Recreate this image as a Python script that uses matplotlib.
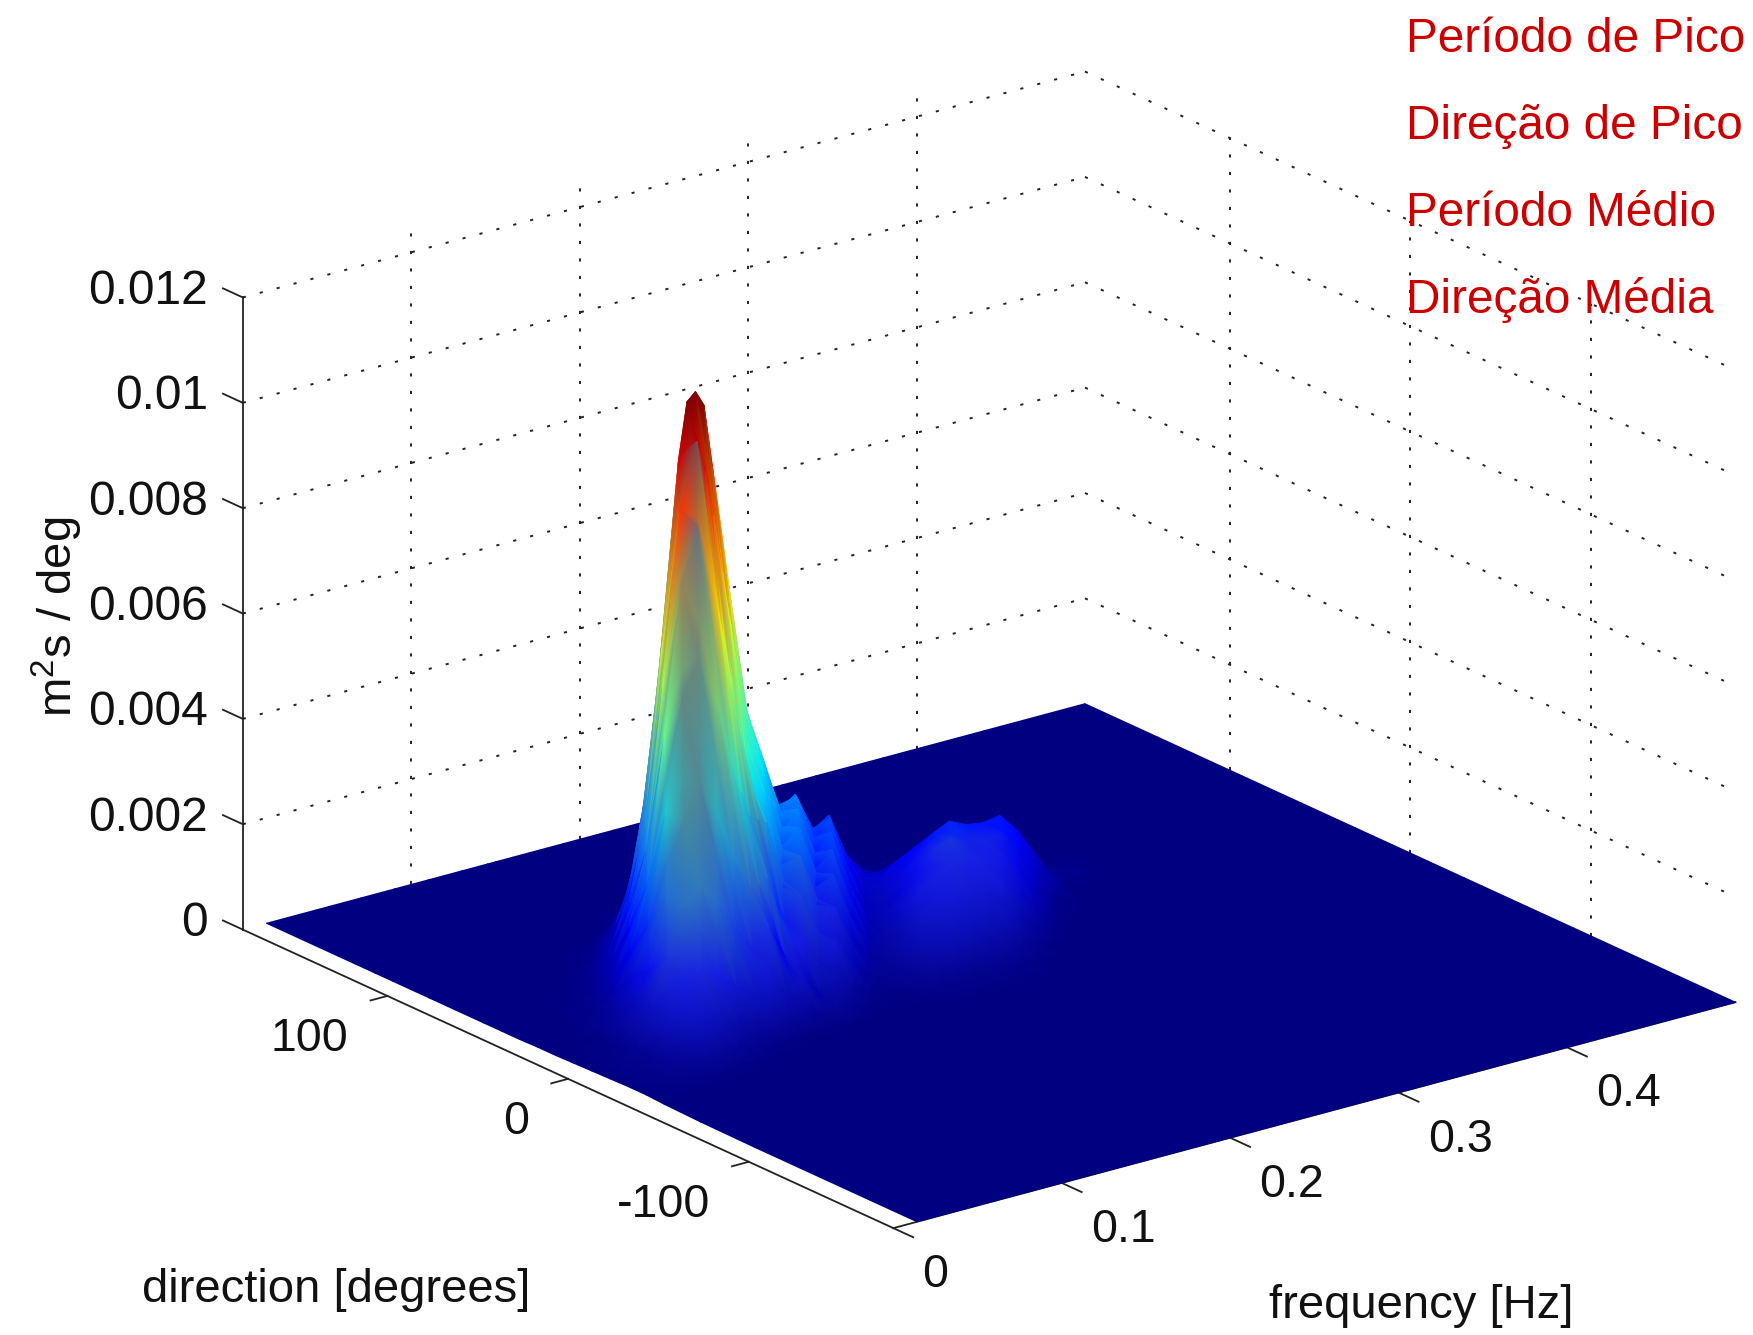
""" directional wave spectrum, surface seen from the front corner
"""
import numpy as np
import matplotlib
matplotlib.use('Agg')
import matplotlib.pyplot as plt
from mpl_toolkits.mplot3d import proj3d

plt.rcParams['font.family'] = ['Liberation Sans', 'DejaVu Sans']
plt.rcParams['mathtext.fontset'] = 'custom'
plt.rcParams['mathtext.rm'] = 'Liberation Sans'
plt.rcParams['mathtext.default'] = 'rm'

# Surface, energy in units of 1e-4 m2s/deg
freq_hz = [.014, .04, .06, .07, .08, .09, .10, .11, .12, .13, .135, .14, .145, .15, .16, .17, .18, .19, .20,
           .21, .22, .23, .24, .25, .26, .27, .28, .29, .30, .31, .32, .34, .38, .44, .50]
dir_deg = [180, 140, 120, 110, 100, 90, 80, 70, 60, 50, 40, 30, 20, 10, 0, -10, -20, -30, -40, -60, -90, -180]
energy_e4 = [
    [0]*35,
    [0]*35,
    [0]*12 + [.1, .2, .4, .9, 1.9, 2.9, 3.3, 2.8, 2.1, 1.4, 1.1, .6, .8, .5, .6, .3, .1, 0, 0] + [0]*4,
    [0]*7 + [.1, .1, .2, .3, .5, .9, 1.3, 2.6, 5.6, 8.6, 10, 8.4, 6.3, 4, 3.2, 1.9, 2.4, 1.4, 1.9, 1, .4, .2, .1, .1, 0, 0, 0, 0],
    [0]*6 + [.1, .2, .4, 1.1, 2, 3, 4.7, 6.4, 14, 21, 24, 20, 15, 10, 8, 4.6, 5.9, 3.3, 4.6, 2.4, .9, .4, .2] + [0]*6,
    [0]*5 + [.2, .5, .9, 2.3, 6.3, 9.5, 13, 20, 28, 43, 49, 42, 32, 21, 16, 9.5, 12, 6.8, 9.5, 5, 1.8, .9, .5, .2] + [0]*6,
    [0]*4 + [.4, .7, 1.4, 3.6, 10, 21, 33, 45, 57, 69, 78, 67, 50, 33, 26, 15, 19, 11, 15, 8.7, 3.8, 2.4, 1.7, 1.3, .9, .9, .7, .1, 0, 0, 0],
    [0]*3 + [.5, .9, 1.8, 4.6, 13, 27, 57, 73, 88, 95, 100, 86, 64, 39, 33, 19, 25, 14.1, 19.3, 11, 6.1, 5.5, 5.6, 5.6, 4.7, 4.5, 4.7, 3.6, .6, 0, 0, 0],
    [0, 0, .5, 1, 2, 5, 14, 29, 62, 97, 107.5, 109, 106, 94, 70, 42, 36, 21, 27, 15, 21.2, 11.6, 6.5, 7.6, 9.7, 11.3, 12, 10.9, 10.5, 10.9, 8.4, 1.4, 0, 0, 0],
    [0, .2, .9, 1.9, 4.7, 13, 27, 58, 90, 102, 96, 87, 76, 66, 41, 36, 21, 27, 15, 21, 11.3, 5, 5.4, 8.9, 13, 15.5, 17, 15.5, 15, 15.5, 12, 2, 0, 0, 0],
    [0, .3, 1.6, 4, 11, 23, 50, 78, 88, 75, 66, 57, 47, 38, 34, 20, 26, 14, 20, 10.8, 4.8, 5, 8.4, 12.3, 14.8, 16.2, 14.7, 14.3, 14.7, 11.4, 6.7, .4, 0, 0, 0],
    [.1, .6, 3, 8.5, 18, 38, 59, 66, 57, 43, 38, 33, 32, 31, 18, 23, 13, 17.8, 9.6, 4.2, 4, 7, 10.3, 12.4, 13.6, 12.4, 12, 12.4, 9.6, 5.6, 1.6, 0, 0, 0, 0],
    [.1, .8, 5.6, 11.6, 25, 38, 44, 37, 28, 22, 22, 23, 18, 14, 18, 10, 14, 7.4, 3.2, 2.9, 5.2, 7.7, 9.3, 10.2, 9.3, 9, 9.3, 7.2, 4.2, 1.2, 0, 0, 0, 0, 0],
    [.2, 1.2, 7, 15.5, 24, 27, 23, 17.5, 13, 16, 13, 9.5, 11, 12, 6.8, 9.5, 5.1, 2.2, 1.9, 3.4, 5, 6.2, 6.8, 6.2, 6, 6.2, 4.8, 2.8, .8] + [0]*6,
    [.3, 1.8, 8, 12.5, 14, 12, 9, 7, 9, 5, 6, 6.8, 5, 3.8, 5, 2.8, 1.3, 1, 1.7, 2.8, 3.4, 3.7, 3.4, 3.3, 3.4, 2.6, 1.5, .4] + [0]*7,
    [.4, 1.9, 6.2, 7, 6, 4.5, 3.5, 4.3, 2.5, 3.2, 2.5, 1.8, 2.1, 2.5, 1.3, .6, .6, .8, 1.1, 1.4, 1.6, 1.6, 1.5, 1.6, 1.2, .7, .2] + [0]*8,
    [.5, 1.9, 3.3, 2.8, 2.1, 1.3, .9, .6, .8, .4, .5, .6, .4, .3, .2, .1, .1, .2, .4, .6, .7, .6, .6, .7, .5, .3, .2] + [0]*8,
    [.5, 1.1, 1, .8, .6, .5, .3, .3, .2, .2, .15, .1, .05] + [0]*22,
    [.3, .4, .3, .2, .2] + [0]*30,
    [.1, .1] + [0]*33,
    [0]*35,
    [0]*35,
]

freq_ticks = [0, .1, .2, .3, .4]
dir_ticks = [-100, 0, 100]
z_ticks = [0, .002, .004, .006, .008, .01, .012]
z_labels = ['0', '0.002', '0.004', '0.006', '0.008', '0.01', '0.012']
info_labels = ['Período de Pico', 'Direção de Pico', 'Período Médio', 'Direção Média']

W, H = 1753, 1335
fig = plt.figure(figsize=(W/100, H/100), dpi=100, facecolor='white')
ax = fig.add_axes([166/W, -138/H, 1603/W, 1603/H], projection='3d', proj_type='ortho', computed_zorder=False)
az, el = -127.4, 20.54
box = np.array([1060., 1071., 675.])
ax.view_init(elev=el, azim=az)
ax.set_box_aspect(box, zoom=1)
ax.set_xlim(0, .5, view_margin=0)
ax.set_ylim(-180, 180, view_margin=0)
ax.set_zlim(0, .012, view_margin=0)
ax.set_axis_off()
ax.patch.set_alpha(0)
ax.set_zorder(1)
ax.apply_aspect()

F, D = np.meshgrid(freq_hz, dir_deg)
Z = np.array(energy_e4)*1e-4

# jet colours, greyed where the surface faces the viewer (the lit look of the original)
xp, yp = np.array(freq_hz)*box[0]/.5, np.array(dir_deg)*box[1]/360
dzdy, dzdx = np.gradient(Z*box[2]/.012, yp, xp)
nlen = np.sqrt(dzdx**2 + dzdy**2 + 1)
azr, elr = np.radians(az), np.radians(el)
facing = (-dzdx*np.cos(elr)*np.cos(azr) - dzdy*np.cos(elr)*np.sin(azr) + np.sin(elr))/nlen
rgba = plt.get_cmap('jet')(np.clip(Z/.0105, 0, 1))
w = np.clip((facing - .3)/.3, 0, 1)*np.clip(Z/.004, 0, 1)*.85
rgba[..., :3] = (1 - w[..., None])*rgba[..., :3] + w[..., None]*np.array([.33, .45, .55])

M = ax.get_proj()
sx, sy, _ = proj3d.proj_transform(F.ravel(), D.ravel(), Z.ravel(), M)
px = ax.transData.transform(np.column_stack([sx, sy]))
PX = px[:, 0].reshape(Z.shape)
PY = px[:, 1].reshape(Z.shape)

# Smooth surface on its own overlay, back rows first so the front ones cover them
sax = fig.add_axes([0, 0, 1, 1], zorder=2)
sax.set_axis_off()
sax.patch.set_alpha(0)
sax.pcolormesh(PX[:, ::-1], PY[:, ::-1], rgba[:, ::-1], shading='gouraud')
sax.set_xlim(0, W)
sax.set_ylim(0, H)

# Back wall grid
dots = dict(color='#222222', lw=1.4, ls=(0, (1.6, 7.4)), zorder=1)
for z in z_ticks[1:]:
    ax.plot([0, .5], [180, 180], [z, z], **dots)
    ax.plot([.5, .5], [180, -180], [z, z], **dots)
for f in freq_ticks[1:]:
    ax.plot([f, f], [180, 180], [0, .01245], **dots)
for d in dir_ticks:
    ax.plot([.5, .5], [d, d], [0, .012], **dots)

# Axes lines and ticks
axl = dict(color='#222222', lw=1.3, zorder=1)
ax.plot([0, 0], [180, 180], [0, .012], **axl)
ax.plot([0, 0], [180, -180], [0, 0], **axl)
ax.plot([0, .5], [-180, -180], [0, 0], **axl)
for z in z_ticks:
    ax.plot([0, 0], [180, 191], [z, z], **axl)
for f in freq_ticks:
    ax.plot([f, f], [-180, -191], [0, 0], **axl)
for d in dir_ticks:
    ax.plot([0, -.01], [d, d], [0, 0], **axl)

def label_at(text, x, y, z, dx, dy, ha, size=33.5):
    xs, ys, _ = proj3d.proj_transform(x, y, z, M)
    ax.annotate(text, xy=(xs, ys), xytext=(dx, dy), textcoords='offset pixels',
                ha=ha, va='center', fontsize=size, color='#111111', annotation_clip=False)

for z, lab in zip(z_ticks, z_labels):
    label_at(lab, 0, 180, z, -35, 6, 'right', 34.5)
for f in freq_ticks:
    label_at('%g' % f, f, -180, 0, 29, -47, 'left')
for d in dir_ticks:
    label_at('%g' % d, 0, d, 0, -39, -43, 'right')

fig.text(336/W, 1 - 1290/H, 'direction [degrees]', fontsize=34, ha='center', va='center', color='#111111')
fig.text(1421/W, 1 - 1306/H, 'frequency [Hz]', fontsize=34, ha='center', va='center', color='#111111')
fig.text(85/W, 1 - 617/H, 'm$^{2}$s / deg', fontsize=34, rotation=90, ha='right', va='center', color='#111111')

for lab, base in zip(info_labels, [52, 139, 226, 313]):
    fig.text(1406/W, 1 - base/H, lab, fontsize=34.4, color='#CC0000', ha='left', va='baseline')

fig.savefig('out.png', dpi=100)
